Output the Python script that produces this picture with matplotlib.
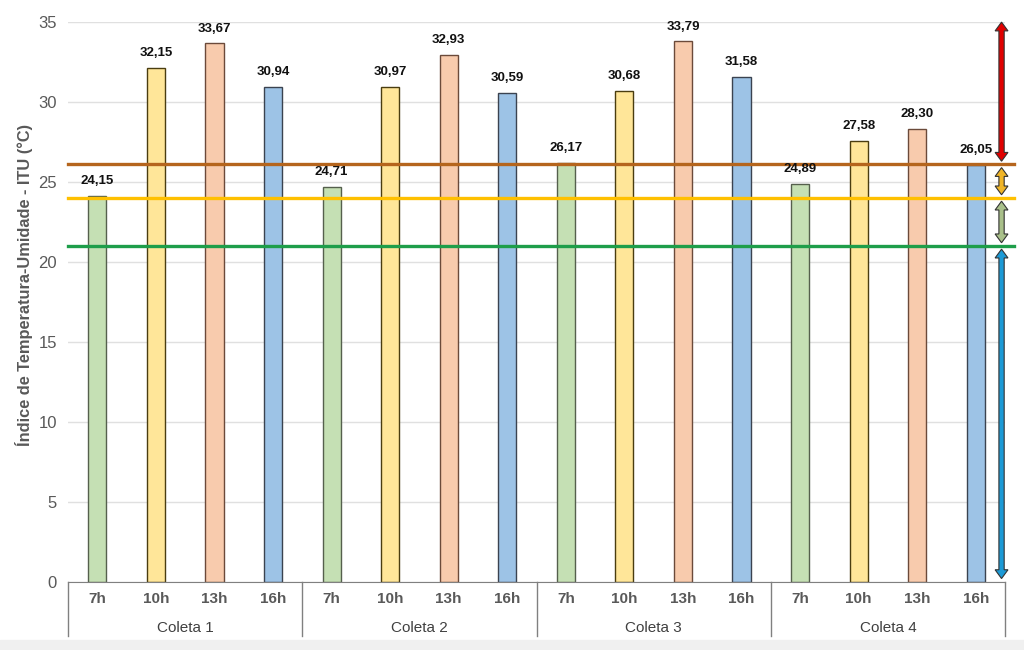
import matplotlib.pyplot as plt
from matplotlib.patches import Polygon
from matplotlib.transforms import blended_transform_factory
import numpy as np

plt.rcParams['font.family'] = ['Liberation Sans', 'DejaVu Sans']

coletas = ['Coleta 1', 'Coleta 2', 'Coleta 3', 'Coleta 4']
horas = ['7h', '10h', '13h', '16h']
itu = [
    [24.15, 32.15, 33.67, 30.94],
    [24.71, 30.97, 32.93, 30.59],
    [26.17, 30.68, 33.79, 31.58],
    [24.89, 27.58, 28.30, 26.05],
]
limites = [21, 24, 26.1]
faixas = [(0, 21), (21, 24), (24, 26.1), (26.1, 35.2)]

cores_barras = ['#c5e0b4', '#ffe699', '#f8cbad', '#9dc3e6']
bordas_barras = ['#55604d', '#4a3d10', '#6b4a3a', '#3b4350']
cores_linhas = ['#1e9e4a', '#ffc000', '#b5651d']
cores_setas = ['#1c9ad6', '#a9c08a', '#f0b528', '#e00000']

fig = plt.figure(figsize=(10.24, 6.5), dpi=100)
ax = fig.add_axes([0.0665, 0.105, 0.915, 0.861])

n = len(horas)
for g, vals in enumerate(itu):
    for i, v in enumerate(vals):
        x = g * n + i
        ax.bar(x, v, width=0.31, color=cores_barras[i], edgecolor=bordas_barras[i],
               linewidth=1, zorder=2)
        ax.text(x, v + 0.55, f'{v:.2f}'.replace('.', ','), ha='center', va='bottom',
                fontsize=9.5, fontweight='bold', color='#111111', zorder=5)

ax.set_xlim(-0.5, len(coletas) * n - 0.5)
ax.set_ylim(0, 35)
ax.set_yticks(np.arange(0, 36, 5))
ax.tick_params(axis='y', length=0, labelsize=12, colors='#595959', pad=8)
ax.grid(axis='y', color='#e0e0e0', linewidth=1, zorder=0)
ax.set_xticks([])
for s in ['top', 'right', 'left']:
    ax.spines[s].set_visible(False)
ax.spines['bottom'].set_color('#808080')
ax.text(-0.047, 0.53, 'Índice de Temperatura-Umidade - ITU (°C)', transform=ax.transAxes,
        rotation=90, ha='center', va='center', fontsize=11.8, fontweight='bold',
        color='#595959')

for lim, c in zip(limites, cores_linhas):
    ax.plot([-0.5, 15.65], [lim, lim], color=c, linewidth=2.4, zorder=3, clip_on=False)

# rótulos do eixo x em dois níveis
trans = blended_transform_factory(ax.transData, ax.transAxes)
for g, nome in enumerate(coletas):
    for i, h in enumerate(horas):
        ax.text(g * n + i, -0.03, h, transform=trans, ha='center', va='center',
                fontsize=11, fontweight='bold', color='#595959')
    ax.text(g * n + 1.5, -0.082, nome, transform=trans, ha='center', va='center',
            fontsize=11, color='#404040')
for g in range(len(coletas) + 1):
    ax.plot([g * n - 0.5, g * n - 0.5], [0, -0.097], transform=trans,
            color='#808080', linewidth=1, clip_on=False)

# setas duplas das faixas
xs, meia_haste, meia_cabeca, comp_cabeca = 15.44, 0.045, 0.11, 0.55
for (y0, y1), c in zip(faixas, cores_setas):
    a0, a1 = y0 + 0.2, y1 - 0.2
    pts = [(xs, a1), (xs + meia_cabeca, a1 - comp_cabeca), (xs + meia_haste, a1 - comp_cabeca),
           (xs + meia_haste, a0 + comp_cabeca), (xs + meia_cabeca, a0 + comp_cabeca), (xs, a0),
           (xs - meia_cabeca, a0 + comp_cabeca), (xs - meia_haste, a0 + comp_cabeca),
           (xs - meia_haste, a1 - comp_cabeca), (xs - meia_cabeca, a1 - comp_cabeca)]
    ax.add_patch(Polygon(pts, closed=True, facecolor=c, edgecolor='#333333',
                         linewidth=0.8, zorder=6, clip_on=False))

fig.patches.append(plt.Rectangle((0, 0), 1, 0.015, transform=fig.transFigure,
                                 color='#f0f0f0', zorder=-1))
fig.savefig('out.png', dpi=100)
